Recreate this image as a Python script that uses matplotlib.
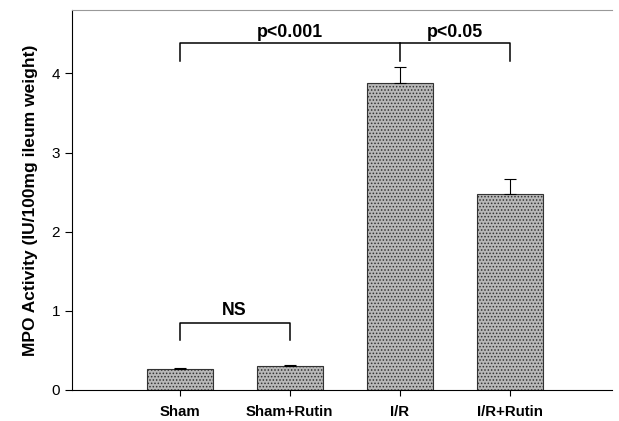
import numpy as np
import matplotlib.pyplot as plt

plt.rcParams['font.family'] = ['Liberation Sans', 'DejaVu Sans']
plt.rcParams['font.weight'] = 'bold'
plt.rcParams['hatch.color'] = '#7a7a7a'
plt.rcParams['hatch.linewidth'] = 0.7

groups = ['Sham', 'Sham+Rutin', 'I/R', 'I/R+Rutin']
mpo = [0.26, 0.30, 3.88, 2.48]
sem = [0.02, 0.01, 0.20, 0.19]

fig = plt.figure(figsize=(6.19, 4.21), dpi=100)
ax = fig.add_axes([0.116, 0.074, 0.873, 0.902])

x = np.arange(len(groups))
ax.bar(x, mpo, width=0.6, color='#b8b8b8', edgecolor='#333333', linewidth=0.8, hatch='.....', zorder=2)
ax.errorbar(x, mpo, yerr=[np.zeros(4), sem], fmt='none', ecolor='black', elinewidth=0.8, capsize=4, capthick=0.8, zorder=3)

ax.set_xlim(-0.98, 3.93)
ax.set_ylim(0, 4.8)
ax.set_yticks([0, 1, 2, 3, 4])
ax.set_xticks(x)
ax.set_xticklabels(groups, fontsize=10.8, fontweight='bold')
ax.tick_params(axis='y', labelsize=11, direction='out', length=5)
ax.tick_params(axis='x', direction='inout', length=8, pad=7)
for lbl in ax.get_yticklabels():
    lbl.set_fontweight('normal')
ax.set_ylabel('MPO Activity (IU/100mg ileum weight)', fontsize=12.5, fontweight='bold', labelpad=10)
ax.spines['right'].set_visible(False)
ax.spines['top'].set_color('#999999')

# significance brackets
def bracket(x0, x1, y, drop):
    ax.plot([x0, x0, x1, x1], [y - drop, y, y, y - drop], color='black', lw=1.1)

bracket(0, 3, 4.38, 0.22)
ax.plot([2, 2], [4.38, 4.16], color='black', lw=1.1)
ax.text(1.0, 4.41, 'p<0.001', ha='center', va='bottom', fontsize=12.8, fontweight='bold')
ax.text(2.5, 4.41, 'p<0.05', ha='center', va='bottom', fontsize=12.8, fontweight='bold')
bracket(0, 1, 0.85, 0.22)
ax.text(0.5, 0.89, 'NS', ha='center', va='bottom', fontsize=12.8, fontweight='bold')

fig.savefig('out.png', dpi=100)
